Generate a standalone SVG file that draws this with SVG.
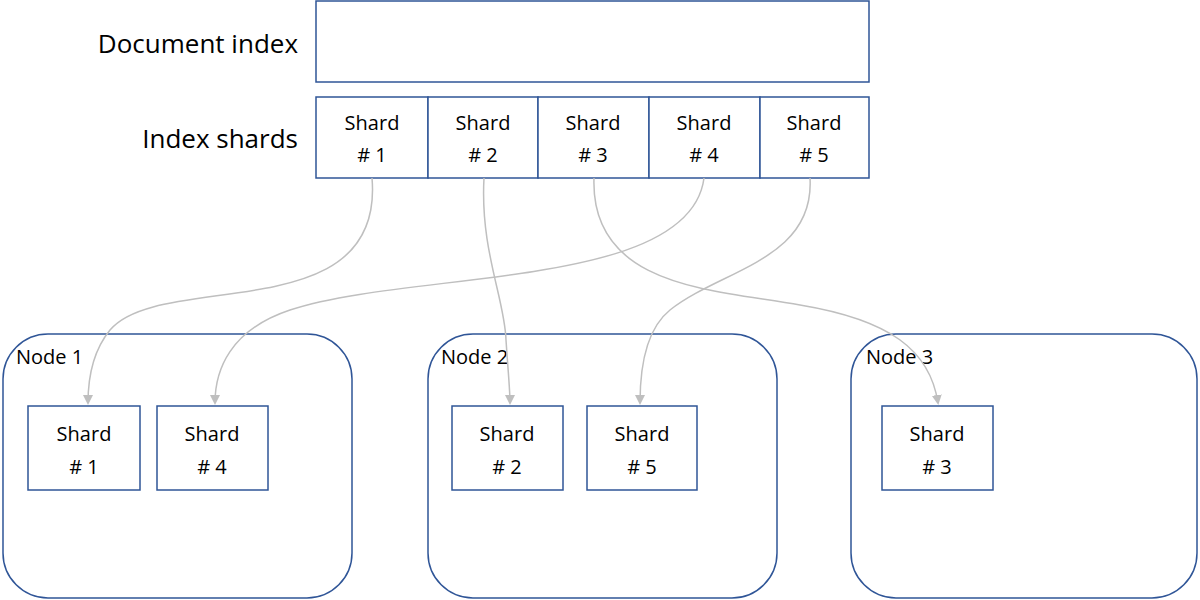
<svg xmlns="http://www.w3.org/2000/svg" width="1200" height="600" viewBox="0 0 1200 600">
<style>
.b{fill:#fff;stroke:#2f5597;stroke-width:1.5}
.t{font-family:"Open Sans","Liberation Sans",sans-serif;fill:#000}
.s{font-size:20px;text-anchor:middle}
.c{fill:none;stroke:#bfbfbf;stroke-width:1.5;marker-end:url(#a)}
</style>
<defs><marker id="a" markerWidth="10" markerHeight="10" refX="8" refY="5" orient="auto" markerUnits="userSpaceOnUse"><path d="M0,0 L10,5 L0,10 z" fill="#bfbfbf"/></marker></defs>
<rect width="1200" height="600" fill="#fff"/>
<g id="docindex"><rect class="b" x="316" y="1" width="553" height="81"/><text class="t" x="298" y="53" font-size="26" text-anchor="end">Document index</text></g>
<g id="shards"><text class="t" x="298" y="148" font-size="26" text-anchor="end">Index shards</text>
<rect class="b" x="316" y="97" width="112" height="81"/><rect class="b" x="428" y="97" width="110" height="81"/><rect class="b" x="538" y="97" width="111" height="81"/><rect class="b" x="649" y="97" width="111" height="81"/><rect class="b" x="760" y="97" width="109" height="81"/>
<text class="t s" x="372" y="130">Shard</text><text class="t s" x="372" y="162"># 1</text>
<text class="t s" x="483" y="130">Shard</text><text class="t s" x="483" y="162"># 2</text>
<text class="t s" x="593" y="130">Shard</text><text class="t s" x="593" y="162"># 3</text>
<text class="t s" x="704" y="130">Shard</text><text class="t s" x="704" y="162"># 4</text>
<text class="t s" x="814" y="130">Shard</text><text class="t s" x="814" y="162"># 5</text></g>
<g id="node1"><rect class="b" x="3" y="334" width="349" height="264" rx="45"/><text class="t" x="16" y="364" font-size="20">Node 1</text>
<rect class="b" x="28" y="406" width="112" height="84"/><text class="t s" x="84" y="441">Shard</text><text class="t s" x="84" y="474"># 1</text>
<rect class="b" x="157" y="406" width="111" height="84"/><text class="t s" x="212" y="441">Shard</text><text class="t s" x="212" y="474"># 4</text></g>
<g id="node2"><rect class="b" x="428" y="334" width="349" height="264" rx="45"/><text class="t" x="441" y="364" font-size="20">Node 2</text>
<rect class="b" x="452" y="406" width="111" height="84"/><text class="t s" x="507" y="441">Shard</text><text class="t s" x="507" y="474"># 2</text>
<rect class="b" x="587" y="406" width="110" height="84"/><text class="t s" x="642" y="441">Shard</text><text class="t s" x="642" y="474"># 5</text></g>
<g id="node3"><rect class="b" x="851" y="334" width="346" height="264" rx="45"/><text class="t" x="866" y="364" font-size="20">Node 3</text>
<rect class="b" x="882" y="406" width="111" height="84"/><text class="t s" x="937" y="441">Shard</text><text class="t s" x="937" y="474"># 3</text></g>
<g id="connectors">
<path class="c" d="M372,178 C385,330 160,270 110,330 C92,352 88,380 88,403"/>
<path class="c" d="M704,178 C690,290 410,270 290,310 C230,330 215,370 215,403"/>
<path class="c" d="M484,178 C480,250 505,300 506,340 C508,370 510,390 510,403"/>
<path class="c" d="M810,178 C815,260 720,270 670,310 C645,330 640,370 640,403"/>
<path class="c" d="M594,178 C590,290 720,290 800,305 C890,320 930,350 938,403"/>
</g>
</svg>
